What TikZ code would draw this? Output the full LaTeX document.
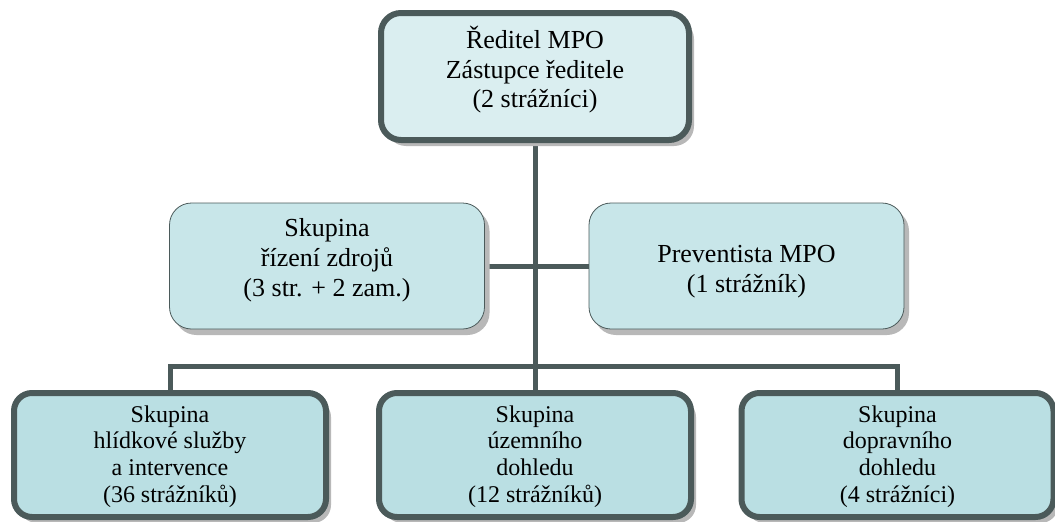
\documentclass[tikz,border=0pt]{standalone}
\usepackage{fontspec}
\setmainfont{Liberation Serif}
\usetikzlibrary{shadows,backgrounds}
\definecolor{edge}{HTML}{4B5A5A}
\definecolor{topfill}{HTML}{DAEEF0}
\definecolor{midfill}{HTML}{C8E6E9}
\definecolor{botfill}{HTML}{BADFE3}
\definecolor{shade}{HTML}{B8B8B8}
\newcommand\shiftedtext[2]{\raisebox{#1}[\height][\depth]{\begin{tabular}{@{}c@{}}#2\end{tabular}}}
\tikzset{
  x=1pt,y=1pt,
  boxshadow/.style={drop shadow={shadow xshift=5pt,shadow yshift=-6pt,fill=shade,opacity=1}},
  topbox/.style={draw=edge,line width=6pt,fill=topfill,rounded corners=20pt,
    minimum width=308pt,minimum height=127pt,inner sep=0pt,boxshadow,
    font=\fontsize{26}{29.5}\selectfont},
  midbox/.style={draw=edge,line width=0.8pt,fill=midfill,rounded corners=22pt,
    minimum width=315pt,minimum height=126pt,inner sep=0pt,boxshadow,
    font=\fontsize{26}{30}\selectfont},
  botbox/.style={draw=edge,line width=6pt,fill=botfill,rounded corners=18pt,
    minimum width=312pt,minimum height=124pt,inner sep=0pt,boxshadow,
    font=\fontsize{24}{26.7}\selectfont},
  conn/.style={draw=edge,line width=5pt},
}
\begin{document}
\begin{tikzpicture}
\useasboundingbox (0,0) rectangle (1055,-522);
\node[topbox] (top) at (535,-76.5) {\shiftedtext{5pt}{Ředitel MPO\\Zástupce ředitele\\(2 strážníci)}};
\node[midbox] (ml) at (327,-266) {\shiftedtext{6pt}{Skupina\\řízení zdrojů\\(3 str. + 2 zam.)}};
\node[midbox] (mr) at (746.5,-266) {\shiftedtext{-5pt}{Preventista MPO\\(1 strážník)}};
\node[botbox] (bl) at (170,-455) {\shiftedtext{-2pt}{Skupina\\hlídkové služby\\a intervence\\(36 strážníků)}};
\node[botbox] (bm) at (535,-455) {\shiftedtext{-2pt}{Skupina\\územního\\dohledu\\(12 strážníků)}};
\node[botbox] (br) at (897.5,-455) {\shiftedtext{-2pt}{Skupina\\dopravního\\dohledu\\(4 strážníci)}};
\coordinate (bus) at (535,-366);
\begin{scope}[on background layer]
\draw[conn] (ml.east) -- (mr.west);
\draw[conn] (top.south) -- (bus) -- (bm.north);
\draw[conn] (bl.north) |- (bus) -| (br.north);
\end{scope}
\end{tikzpicture}
\end{document}
